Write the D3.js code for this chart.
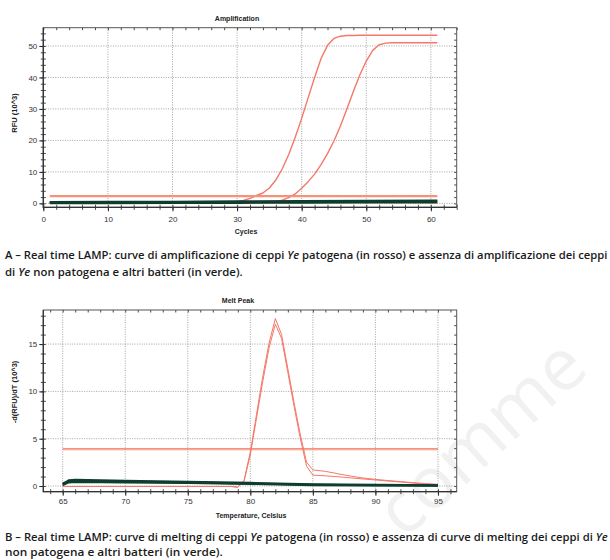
<!DOCTYPE html>
<html>
<head>
<meta charset="utf-8">
<script src="https://cdn.jsdelivr.net/npm/d3@7"></script>
<style>
  body { margin: 0; background: #fff; }
  svg { display: block; font-family: "Liberation Sans", Arial, sans-serif; }
</style>
</head>
<body>
<div id="chart"></div>
<script>
// ---- Amplification (panel A) ----
const ampCycles = [1, 5, 10, 15, 20, 25, 29, 30, 31, 32, 33, 34, 35, 36, 37, 38, 39, 40, 41, 42, 43, 44, 45, 46, 47, 48, 49, 50, 51, 52, 53, 54, 55, 56, 57, 58, 59, 60, 61];
const ampRed1 = [0.2, 0.2, 0.2, 0.2, 0.2, 0.25, 0.35,
  0.5, 0.9, 1.6, 2.5, 3.3, 4.9, 7.4, 11.0, 15.5, 21.0, 27.0, 33.5, 40.0, 46.0, 50.2, 52.4, 53.1, 53.3, 53.3, 53.4, 53.4,
  53.4, 53.4, 53.4, 53.4, 53.4, 53.4, 53.4, 53.4, 53.4, 53.4, 53.4];
const ampRed2 = [0.15, 0.15, 0.15, 0.15, 0.15, 0.15, 0.15,
  0.15, 0.15, 0.18, 0.2, 0.25, 0.32,
  0.5, 1.0, 1.8, 3.0, 4.8, 6.9, 9.3, 12.3, 15.8, 19.8, 24.6, 30.0, 35.5, 40.8, 45.2, 48.6, 50.4, 50.9,
  51.0, 51.0, 51.0, 51.0, 51.0, 51.0, 51.0, 51.0];
const ampGreenCycles = [1, 10, 20, 30, 40, 50, 61];
const ampGreen1 = [0.0, 0.05, 0.1, 0.15, 0.2, 0.25, 0.3];
const ampGreen2 = [0.25, 0.3, 0.35, 0.4, 0.5, 0.55, 0.6];
const ampGreen3 = [0.45, 0.5, 0.55, 0.65, 0.75, 0.85, 0.9];
const ampThreshold = [2.3];
const ampThresholdSpan = [1, 61];
const ampXTicks = [0, 10, 20, 30, 40, 50, 60];
const ampYTicks = [0, 10, 20, 30, 40, 50];

// ---- Melt Peak (panel B) ----
const meltTemps = [65, 65.5, 66, 68, 70, 72, 74, 76, 78, 78.5,
  79, 79.5, 80, 80.5, 81, 81.5, 82, 82.5, 83, 83.5, 84, 84.5, 85,
  86, 87, 88, 89, 90, 91, 92, 93, 94, 95];
const meltRed1 = [-0.05, -0.05, -0.05, -0.05, -0.05, -0.05, -0.05, -0.05, -0.05, -0.05,
  -0.15, 0.6, 3.6, 7.6, 11.6, 15.1, 17.7, 16.0, 12.4, 8.8, 5.4, 2.5, 1.7,
  1.55, 1.3, 1.05, 0.85, 0.7, 0.58, 0.47, 0.36, 0.26, 0.18];
const meltRed2 = [-0.05, -0.05, -0.05, -0.05, -0.05, -0.05, -0.05, -0.05, -0.05, -0.05,
  -0.1, 0.5, 3.3, 7.2, 11.1, 14.6, 17.1, 15.6, 12.0, 8.4, 5.0, 2.1, 1.15,
  1.08, 0.98, 0.86, 0.75, 0.64, 0.53, 0.42, 0.31, 0.2, 0.1];
const meltGreenTemps = [65, 65.5, 66, 70, 75, 80, 85, 90, 95];
const meltGreen1 = [0.2, 0.62, 0.66, 0.56, 0.46, 0.34, 0.2, 0.13, 0.08];
const meltGreen2 = [0.28, 0.5, 0.52, 0.46, 0.38, 0.27, 0.14, 0.09, 0.05];
const meltGreen3 = [0.1, 0.38, 0.42, 0.38, 0.31, 0.21, 0.09, 0.05, 0.02];
const meltThreshold = [3.83, 3.97];
const meltThresholdSpan = [65, 95];
const meltXTicks = [65, 70, 75, 80, 85, 90, 95];
const meltYTicks = [0, 5, 10, 15];

const RED = "#f4786a";
const RED_LIGHT = "#f6917a";
const GREEN = "#0f3d2e";

const svg = d3.select("#chart").append("svg")
    .attr("width", 610)
    .attr("height", 560);

// faint watermark behind everything
svg.append("text")
    .attr("transform", "translate(404,540) rotate(-42)")
    .attr("font-family", "Open Sans")
    .attr("font-size", 72)
    .attr("fill", "#f1f1f1")
    .text("comme");

function panel(opt) {
    const left = 43.3, right = 456.7;
    const x = d3.scaleLinear().domain(opt.xDomain).range([left, right]);
    const y = d3.scaleLinear().domain(opt.yDomain).range([opt.bottom, opt.top]);
    const g = svg.append("g");

    // dotted grid
    g.append("g").selectAll("line").data(opt.xTicks).join("line")
        .attr("x1", d => x(d)).attr("x2", d => x(d))
        .attr("y1", opt.top).attr("y2", opt.bottom);
    g.append("g").selectAll("line").data(opt.yTicks).join("line")
        .attr("x1", left).attr("x2", right)
        .attr("y1", d => y(d)).attr("y2", d => y(d));
    g.selectAll("line")
        .attr("stroke", "#8c8c8c")
        .attr("stroke-width", 0.8)
        .attr("stroke-dasharray", "1,1.4");

    // minor ticks on all sides (crossing on left/bottom, inward on top/right)
    const tickStyle = sel => {
        sel.select(".domain").remove();
        sel.selectAll("line").attr("stroke", "#333").attr("stroke-width", 0.9);
    };
    const bottomG = g.append("g").attr("transform", `translate(0,${opt.bottom})`);
    bottomG.append("g").call(d3.axisBottom(x).tickValues(opt.xMinor).tickSize(2.5).tickFormat("")).call(tickStyle);
    bottomG.append("g").call(d3.axisBottom(x).tickValues(opt.xMinor).tickSize(-2.5).tickFormat("")).call(tickStyle);
    g.append("g").attr("transform", `translate(0,${opt.top})`)
        .call(d3.axisTop(x).tickValues(opt.xMinor).tickSize(-2.5).tickFormat("")).call(tickStyle);
    const leftG = g.append("g").attr("transform", `translate(${left},0)`);
    leftG.append("g").call(d3.axisLeft(y).tickValues(opt.yMinor).tickSize(2.5).tickFormat("")).call(tickStyle);
    leftG.append("g").call(d3.axisLeft(y).tickValues(opt.yMinor).tickSize(-2.5).tickFormat("")).call(tickStyle);
    g.append("g").attr("transform", `translate(${right},0)`)
        .call(d3.axisRight(y).tickValues(opt.yMinor).tickSize(-2.5).tickFormat("")).call(tickStyle);

    // labelled major axes
    const xAxis = bottomG.append("g")
        .call(d3.axisBottom(x).tickValues(opt.xTicks).tickSize(4).tickPadding(opt.xPad));
    const yAxis = leftG.append("g")
        .call(d3.axisLeft(y).tickValues(opt.yTicks).tickSize(4).tickPadding(2));
    [xAxis, yAxis].forEach(a => {
        a.select(".domain").remove();
        a.selectAll("line").attr("stroke", "#222").attr("stroke-width", 1);
        a.selectAll("text")
            .attr("font-family", "Liberation Sans, Arial, sans-serif")
            .attr("font-size", 8)
            .attr("fill", "#333");
    });

    // frame
    g.append("rect")
        .attr("x", left).attr("y", opt.top)
        .attr("width", right - left).attr("height", opt.bottom - opt.top)
        .attr("fill", "none").attr("stroke", "#555").attr("stroke-width", 1);
    g.append("path")
        .attr("d", `M${left},${opt.top}V${opt.bottom}H${right}`)
        .attr("fill", "none").attr("stroke", "#333").attr("stroke-width", 1.3);

    // titles
    g.append("text")
        .attr("x", opt.titleX).attr("y", opt.top - 7)
        .attr("text-anchor", "middle")
        .attr("font-size", 7).attr("font-weight", "bold").attr("fill", "#222")
        .text(opt.title);
    g.append("text")
        .attr("x", opt.xLabelX).attr("y", opt.xLabelY)
        .attr("text-anchor", "middle")
        .attr("font-size", 7).attr("font-weight", "bold").attr("fill", "#222")
        .text(opt.xLabel);
    g.append("text")
        .attr("transform", `translate(17,${opt.yLabelY}) rotate(-90)`)
        .attr("text-anchor", "middle")
        .attr("font-size", 7.5).attr("font-weight", "bold").attr("fill", "#222")
        .text(opt.yLabel);

    return { g, x, y };
}

function drawLine(p, xs, ys, color, width) {
    p.g.append("path")
        .datum(ys)
        .attr("fill", "none")
        .attr("stroke", color)
        .attr("stroke-width", width)
        .attr("stroke-linejoin", "round")
        .attr("d", d3.line().x((d, i) => p.x(xs[i])).y(d => p.y(d)));
}

// ---- panel A ----
const pA = panel({
    top: 27.7, bottom: 207.3,
    xDomain: [0, 64], yDomain: [-1.25, 55.8],
    xTicks: ampXTicks, yTicks: ampYTicks,
    xMinor: d3.range(0, 65, 2), yMinor: d3.range(0, 56, 2),
    xPad: 5,
    title: "Amplification", titleX: 237,
    xLabel: "Cycles", xLabelX: 246, xLabelY: 234,
    yLabel: "RFU (10^3)", yLabelY: 113
});
drawLine(pA, ampCycles, ampRed1, RED, 1.4);
drawLine(pA, ampCycles, ampRed2, RED, 1.4);
ampThreshold.forEach(v => drawLine(pA, ampThresholdSpan, [v, v], RED_LIGHT, 2.4));
[ampGreen1, ampGreen2, ampGreen3].forEach(s => drawLine(pA, ampGreenCycles, s, GREEN, 2));

// ---- panel B ----
const pB = panel({
    top: 310, bottom: 491.7,
    xDomain: [63.45, 96.5], yDomain: [-0.6, 18.6],
    xTicks: meltXTicks, yTicks: meltYTicks,
    xMinor: d3.range(64, 97, 1), yMinor: d3.range(0, 19, 1),
    xPad: 3,
    title: "Melt Peak", titleX: 238,
    xLabel: "Temperature, Celsius", xLabelX: 251, xLabelY: 518,
    yLabel: "-d(RFU)/dT (10^3)", yLabelY: 392
});
meltThreshold.forEach(v => drawLine(pB, meltThresholdSpan, [v, v], RED_LIGHT, 1.1));
drawLine(pB, meltTemps, meltRed1, RED, 1);
drawLine(pB, meltTemps, meltRed2, RED, 1);
[meltGreen1, meltGreen2, meltGreen3].forEach(s => drawLine(pB, meltGreenTemps, s, GREEN, 2));

// ---- captions: a narrow face is mimicked by squeezing the line horizontally ----
function caption(y, width, parts) {
    const t = svg.append("text")
        .attr("font-family", "Open Sans, Noto Sans, sans-serif")
        .attr("font-size", 11.5)
        .attr("font-weight", 600)
        .attr("fill", "#1a1a1a");
    parts.forEach(p => {
        t.append("tspan")
            .attr("font-style", p.italic ? "italic" : "normal")
            .text(p.text);
    });
    const natural = t.node().getComputedTextLength();
    t.attr("transform", `translate(5,${y}) scale(${width / natural},1)`);
}
caption(259, 603, [
    { text: "A \u2013 Real time LAMP: curve di amplificazione di ceppi " },
    { text: "Ye", italic: true },
    { text: " patogena (in rosso) e assenza di amplificazione dei ceppi" }
]);
caption(276, 238, [
    { text: "di " },
    { text: "Ye", italic: true },
    { text: " non patogena e altri batteri (in verde)." }
]);
caption(541, 603, [
    { text: "B \u2013 Real time LAMP: curve di melting di ceppi " },
    { text: "Ye", italic: true },
    { text: " patogena (in rosso) e assenza di curve di melting dei ceppi di " },
    { text: "Ye", italic: true }
]);
caption(556, 218, [
    { text: "non patogena e altri batteri (in verde)." }
]);
</script>
</body>
</html>
